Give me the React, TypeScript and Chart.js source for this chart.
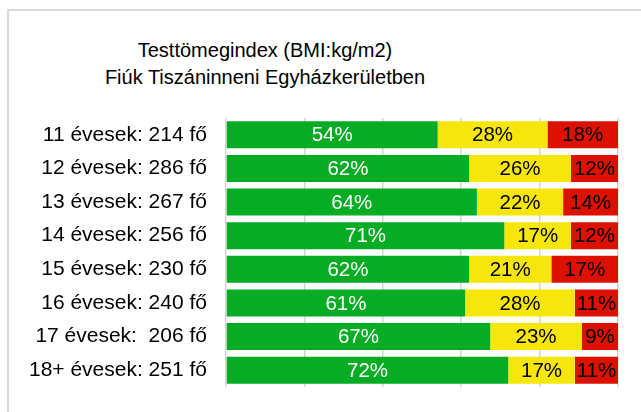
import React, { useEffect, useRef } from "react";
import { Chart, registerables } from "chart.js";

Chart.register(...registerables);

const titleLines = ["Testtömegindex (BMI:kg/m2)", "Fiúk Tiszáninneni Egyházkerületben"];
const categories = [
  "11 évesek: 214 fő",
  "12 évesek: 286 fő",
  "13 évesek: 267 fő",
  "14 évesek: 256 fő",
  "15 évesek: 230 fő",
  "16 évesek: 240 fő",
  "17 évesek:  206 fő",
  "18+ évesek: 251 fő",
];
const normalValues = [54, 62, 64, 71, 62, 61, 67.4, 72];
const overweightValues = [28, 26, 22, 17, 21, 28, 23.4, 17];
const obeseValues = [18, 12, 14, 12, 17, 11, 9.2, 11];
const seriesNames = ["Normál", "Túlsúlyos", "Elhízott"];
const seriesColors = ["#06ad24", "#f6e60c", "#dd1100"];
const labelColors = ["#ffffff", "#000000", "#000000"];

const FONT = "'Liberation Sans', Arial, sans-serif";

const dataLabelPlugin = {
  id: "dataLabels",
  afterDatasetsDraw(chart: any) {
    const ctx = chart.ctx;
    ctx.save();
    ctx.font = `20.5px ${FONT}`;
    ctx.textAlign = "center";
    ctx.textBaseline = "middle";
    chart.data.datasets.forEach((ds: any, di: number) => {
      const meta = chart.getDatasetMeta(di);
      meta.data.forEach((el: any, i: number) => {
        const v = ds.data[i];
        const cx = (el.x + el.base) / 2;
        ctx.fillStyle = labelColors[di];
        ctx.fillText(`${Math.round(v)}%`, cx, el.y + 1);
      });
    });
    ctx.restore();
  },
};

export default function App() {
  const canvasRef = useRef<HTMLCanvasElement | null>(null);

  useEffect(() => {
    if (!canvasRef.current) return;
    const chart = new Chart(canvasRef.current, {
      type: "bar",
      data: {
        labels: categories,
        datasets: [normalValues, overweightValues, obeseValues].map((d, i) => ({
          label: seriesNames[i],
          data: d,
          backgroundColor: seriesColors[i],
          borderWidth: 0,
          barPercentage: 0.8,
          categoryPercentage: 1,
        })),
      },
      options: {
        indexAxis: "y",
        responsive: false,
        animation: false,
        layout: { padding: { top: 118, bottom: 25, right: 23, left: 0 } },
        plugins: {
          legend: { display: false },
          title: { display: false },
          tooltip: { enabled: false },
        },
        scales: {
          x: {
            stacked: true,
            min: 0,
            max: 100,
            ticks: { display: false, stepSize: 20 },
            grid: { color: "#d4d4d4", lineWidth: 1.5, drawTicks: false },
            border: { display: false },
            afterFit(scale: any) {
              scale.height = 0;
            },
          },
          y: {
            stacked: true,
            grid: { display: false, drawTicks: false },
            border: { display: false },
            ticks: {
              color: "#000000",
              padding: 19,
              font: { family: FONT, size: 21 },
            },
            afterFit(scale: any) {
              scale.width = 226;
              scale.paddingTop = 0;
              scale.paddingBottom = 0;
            },
          },
        },
      },
      plugins: [dataLabelPlugin],
    });
    return () => chart.destroy();
  }, []);

  return (
    <div
      style={{
        position: "fixed",
        left: 0,
        top: 0,
        width: 641,
        height: 412,
        background: "#ffffff",
        overflow: "hidden",
      }}
    >
      <div
        style={{
          position: "absolute",
          left: 7,
          top: 9,
          width: 800,
          height: 600,
          borderTop: "2px solid #d9d9d9",
          borderLeft: "2px solid #d9d9d9",
        }}
      />
      <div
        style={{
          position: "absolute",
          left: 0,
          top: 37,
          width: 530,
          textAlign: "center",
          fontFamily: FONT,
          fontSize: 20,
          lineHeight: "26.5px",
          color: "#000000",
        }}
      >
        {titleLines.map((t, i) => (
          <div key={i}>{t}</div>
        ))}
      </div>
      <canvas
        ref={canvasRef}
        width={641}
        height={412}
        style={{ position: "absolute", left: 0, top: 0 }}
      />
    </div>
  );
}
